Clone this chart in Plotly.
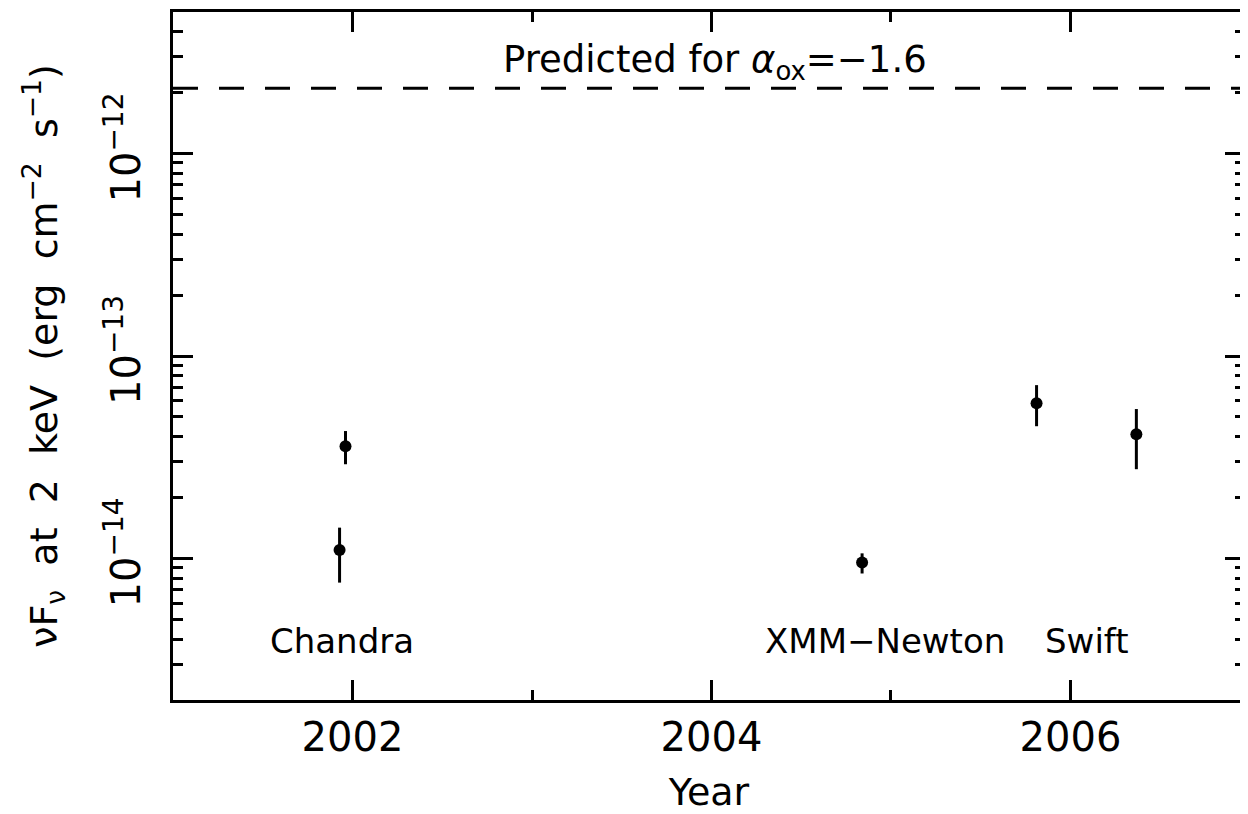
import numpy as np
import plotly.graph_objects as go

# --- data ---
obs_year = [2001.928, 2001.961, 2004.839, 2005.811, 2006.367]
obs_flux = [1.10e-14, 3.58e-14, 9.55e-15, 5.85e-14, 4.11e-14]
obs_flux_hi = [1.42e-14, 4.26e-14, 1.06e-14, 7.18e-14, 5.47e-14]
obs_flux_lo = [7.60e-15, 2.92e-14, 8.43e-15, 4.50e-14, 2.76e-14]

predicted_flux = 2.1e-12
predicted_label = "Predicted for <i>α</i><sub>ox</sub>=−1.6"

mission_names = ["Chandra", "XMM−Newton", "Swift"]
mission_label_year = [2001.94, 2004.967, 2006.094]
mission_label_flux = 3.93e-15

x_major_ticks = [2002, 2004, 2006]
x_minor_ticks = [2001, 2003, 2005, 2007]
y_major_ticks = [1e-14, 1e-13, 1e-12]
y_major_text = ["10<sup>−14</sup>", "10<sup>−13</sup>", "10<sup>−12</sup>"]
x_range = [2001.0, 2001.0 + 1075.0 / 180.0]
y_range = [np.log10(2e-15), np.log10(5e-12)]

y_minor_ticks = [m * 10.0 ** k for k in range(-15, -11) for m in range(2, 10)]

y_title = "\u00a0\u00a0" + "\u00a0 ".join(["νF<sub>ν</sub>", "at", "2", "keV",
                                           "(erg", "cm<sup>−2</sup>", "s<sup>−1</sup>)"])

FONT = "DejaVu Sans"
BLACK = "black"

fig = go.Figure()

fig.add_trace(go.Scatter(
    x=obs_year, y=obs_flux, mode="markers",
    marker=dict(color=BLACK, size=12, symbol="circle"),
    error_y=dict(type="data", symmetric=False,
                 array=[h - f for h, f in zip(obs_flux_hi, obs_flux)],
                 arrayminus=[f - l for f, l in zip(obs_flux, obs_flux_lo)],
                 color=BLACK, thickness=3, width=0),
    showlegend=False, hoverinfo="skip",
))

fig.add_trace(go.Scatter(
    x=x_range, y=[predicted_flux, predicted_flux], mode="lines",
    line=dict(color=BLACK, width=3, dash="25px,21px"),
    showlegend=False, hoverinfo="skip",
))

# invisible trace so the mirrored (top/right) tick axes get drawn
fig.add_trace(go.Scatter(
    x=x_range, y=[10 ** y_range[0], 10 ** y_range[1]], mode="markers",
    marker=dict(opacity=0), xaxis="x2", yaxis="y2",
    showlegend=False, hoverinfo="skip",
))

annotations = [
    dict(x=2004.017, y=np.log10(predicted_flux), xref="x", yref="y",
         text=predicted_label, showarrow=False, yanchor="bottom",
         font=dict(family=FONT, size=37, color=BLACK))
]
for name, xv in zip(mission_names, mission_label_year):
    annotations.append(dict(x=xv, y=np.log10(mission_label_flux), xref="x", yref="y",
                            text=name, showarrow=False,
                            font=dict(family=FONT, size=34, color=BLACK)))

tick_common = dict(ticks="inside", tickwidth=2.5, tickcolor=BLACK)

fig.update_layout(
    width=1240, height=806,
    margin=dict(l=165, r=0, t=4, b=114),
    paper_bgcolor="white", plot_bgcolor="white",
    font=dict(family=FONT, color=BLACK, size=38),
    annotations=annotations,
    xaxis=dict(
        range=x_range, showgrid=False, zeroline=False,
        showline=True, linecolor=BLACK, linewidth=2.5, mirror="ticks",
        ticklen=20, **tick_common,
        tickmode="array", tickvals=x_major_ticks,
        ticktext=[str(v) for v in x_major_ticks],
        tickfont=dict(family=FONT, size=40, color=BLACK),
        ticklabelstandoff=0,
        minor=dict(tickmode="array", tickvals=x_minor_ticks, ticklen=10,
                   showgrid=False, **tick_common),
        title=dict(text="Year", font=dict(family=FONT, size=38, color=BLACK), standoff=22),
    ),
    yaxis=dict(
        type="log", range=y_range, showgrid=False, zeroline=False,
        showline=True, linecolor=BLACK, linewidth=2.5, mirror="ticks",
        ticklen=20, **tick_common,
        tickmode="array", tickvals=y_major_ticks, ticktext=y_major_text,
        tickangle=-90,
        tickfont=dict(family=FONT, size=40, color=BLACK),
        ticklabelstandoff=14,
        minor=dict(tickmode="array", tickvals=y_minor_ticks, ticklen=10,
                   showgrid=False, **tick_common),
        title=dict(text=y_title, font=dict(family=FONT, size=38, color=BLACK), standoff=29),
    ),
    xaxis2=dict(
        overlaying="x", side="top", range=x_range, showgrid=False, zeroline=False,
        showline=False, showticklabels=False, ticklen=20, **tick_common,
        tickmode="array", tickvals=x_major_ticks,
        minor=dict(tickmode="array", tickvals=x_minor_ticks, ticklen=10,
                   showgrid=False, **tick_common),
    ),
    yaxis2=dict(
        overlaying="y", side="right", type="log", range=y_range,
        showgrid=False, zeroline=False, showline=False, showticklabels=False,
        ticklen=20, **tick_common,
        tickmode="array", tickvals=y_major_ticks,
        minor=dict(tickmode="array", tickvals=y_minor_ticks, ticklen=10,
                   showgrid=False, **tick_common),
    ),
)

fig.write_html("out.html")
